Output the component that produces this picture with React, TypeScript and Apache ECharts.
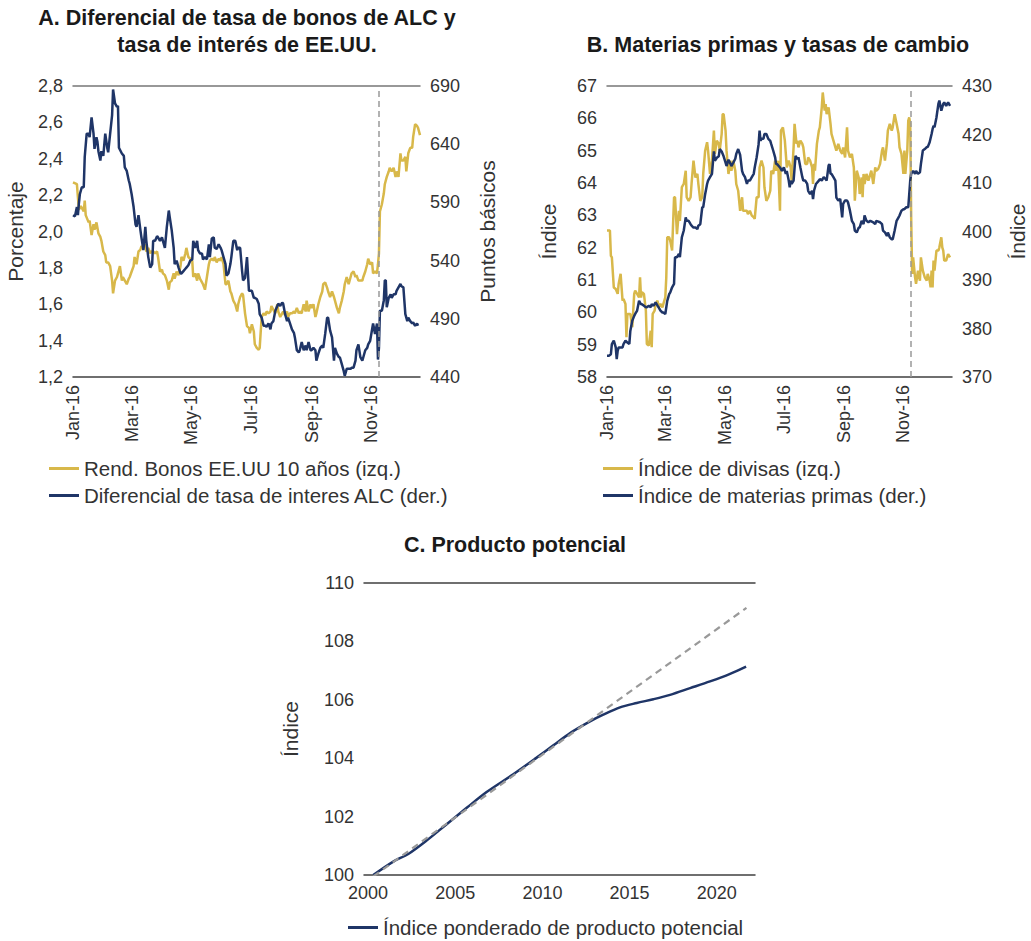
import { useEffect, useRef } from "react";
import * as echarts from "echarts";

const FONT = "'Liberation Sans', Arial, Helvetica, sans-serif";
const GOLD = "#D8B84A";
const NAVY = "#1F3567";
const TEXT = "#333333";

// x positions in panels A and B are days since 1 Jan 2016
const monthTickDays = [0, 60, 121, 182, 244, 305];
const monthTickLabels = ["Jan-16", "Mar-16", "May-16", "Jul-16", "Sep-16", "Nov-16"];
const electionDay = 313;
const yearTicks = [2000, 2005, 2010, 2015, 2020];

// Panel A: US 10y bond yield (%, left) [day, value]
const usYield: [number, number][] = [
  [0, 2.27], [4, 2.26], [5, 2.19], [6, 2.12], [8, 2.14], [11, 2.11], [12, 2.17], [13, 2.09], [16, 2.05], [17, 2.06],
  [19, 1.98], [21, 2.04], [22, 2.01], [24, 2.05], [26, 1.99], [28, 1.97], [29, 1.95], [31, 1.89], [33, 1.87], [34, 1.83],
  [36, 1.83], [38, 1.81], [40, 1.73], [41, 1.66], [43, 1.73], [45, 1.75], [46, 1.77], [48, 1.81], [50, 1.73], [51, 1.75],
  [53, 1.73], [55, 1.71], [57, 1.74], [58, 1.75], [60, 1.78], [62, 1.81], [63, 1.86], [65, 1.82], [67, 1.89], [69, 1.9],
  [70, 1.92], [72, 1.91], [74, 1.93], [75, 1.89], [77, 1.91], [79, 1.88], [80, 1.89], [82, 1.89], [84, 1.88], [86, 1.89],
  [87, 1.86], [89, 1.78], [91, 1.79], [92, 1.77], [94, 1.76], [96, 1.73], [98, 1.68], [99, 1.72], [101, 1.73], [103, 1.77],
  [104, 1.74], [106, 1.78], [108, 1.76], [110, 1.81], [111, 1.86], [113, 1.84], [115, 1.88], [116, 1.91], [118, 1.86], [120, 1.85],
  [122, 1.84], [123, 1.75], [125, 1.77], [127, 1.73], [128, 1.77], [130, 1.74], [132, 1.72], [133, 1.71], [135, 1.68], [137, 1.75],
  [139, 1.82], [140, 1.84], [142, 1.85], [144, 1.84], [145, 1.86], [147, 1.83], [149, 1.85], [151, 1.84], [152, 1.86], [154, 1.82],
  [156, 1.71], [157, 1.71], [159, 1.73], [161, 1.67], [162, 1.66], [164, 1.62], [166, 1.6], [168, 1.56], [169, 1.6], [171, 1.64],
  [173, 1.66], [174, 1.65], [176, 1.55], [178, 1.48], [180, 1.47], [181, 1.44], [183, 1.49], [185, 1.45], [186, 1.38], [188, 1.36],
  [190, 1.35], [191, 1.36], [193, 1.53], [195, 1.55], [197, 1.54], [198, 1.56], [200, 1.55], [202, 1.56], [203, 1.59], [207, 1.55],
  [209, 1.6], [210, 1.56], [212, 1.53], [214, 1.55], [215, 1.56], [217, 1.54], [219, 1.56], [220, 1.53], [222, 1.55], [224, 1.55],
  [226, 1.56], [227, 1.55], [229, 1.58], [231, 1.55], [232, 1.56], [234, 1.55], [236, 1.6], [238, 1.56], [239, 1.62], [241, 1.56],
  [243, 1.6], [244, 1.58], [246, 1.6], [248, 1.53], [249, 1.55], [251, 1.6], [253, 1.64], [255, 1.67], [256, 1.71], [258, 1.72],
  [260, 1.69], [261, 1.67], [263, 1.64], [265, 1.67], [267, 1.64], [268, 1.62], [270, 1.58], [272, 1.55], [273, 1.58], [275, 1.62],
  [277, 1.67], [278, 1.71], [280, 1.75], [282, 1.71], [284, 1.75], [285, 1.77], [287, 1.78], [289, 1.75], [290, 1.76], [292, 1.73],
  [294, 1.73], [296, 1.73], [297, 1.75], [299, 1.78], [301, 1.82], [302, 1.85], [304, 1.82], [306, 1.83], [307, 1.77], [309, 1.78],
  [311, 1.77], [312, 1.82], [313, 1.88], [314, 2.11], [316, 2.15], [318, 2.21], [319, 2.26], [321, 2.3], [323, 2.33], [324, 2.35],
  [326, 2.33], [328, 2.35], [330, 2.3], [331, 2.33], [333, 2.3], [335, 2.43], [336, 2.39], [338, 2.39], [340, 2.41], [341, 2.33],
  [343, 2.43], [345, 2.46], [347, 2.46], [348, 2.52], [350, 2.59], [352, 2.58], [353, 2.57], [355, 2.53],
];

// Panel A: LAC interest-rate spread (basis points, right) [day, value]
const lacSpread: [number, number][] = [
  [0, 579], [2, 578], [4, 586], [5, 579], [6, 589], [7, 597], [9, 603], [11, 603], [12, 629], [14, 649],
  [16, 649], [17, 646], [19, 663], [21, 649], [22, 636], [24, 646], [25, 642], [26, 634], [28, 626], [29, 634],
  [31, 630], [33, 649], [35, 637], [36, 633], [38, 649], [40, 665], [41, 687], [43, 675], [45, 672], [46, 673],
  [47, 637], [50, 632], [52, 630], [53, 620], [55, 617], [57, 609], [58, 606], [60, 597], [62, 586], [64, 571],
  [65, 569], [67, 579], [69, 566], [70, 560], [72, 549], [74, 569], [75, 557], [77, 543], [79, 534], [81, 537],
  [82, 557], [84, 557], [86, 561], [87, 560], [89, 557], [91, 560], [93, 554], [94, 551], [96, 569], [98, 583],
  [99, 577], [101, 566], [103, 551], [104, 537], [106, 540], [108, 534], [110, 529], [111, 529], [113, 531], [115, 533],
  [116, 534], [118, 536], [120, 540], [122, 541], [123, 557], [125, 551], [127, 557], [128, 549], [130, 546], [132, 546],
  [133, 541], [135, 543], [137, 541], [139, 554], [140, 543], [142, 559], [144, 560], [145, 551], [147, 550], [149, 554],
  [151, 551], [152, 549], [154, 543], [156, 537], [157, 527], [159, 529], [161, 537], [162, 543], [164, 557], [166, 557],
  [168, 549], [169, 551], [171, 551], [173, 531], [174, 523], [176, 525], [178, 543], [180, 514], [183, 514], [185, 508],
  [186, 508], [188, 507], [190, 503], [191, 494], [193, 491], [195, 484], [197, 484], [198, 483], [200, 486], [202, 481],
  [203, 486], [205, 488], [207, 497], [209, 501], [210, 503], [212, 501], [214, 504], [215, 503], [217, 494], [219, 488],
  [220, 491], [222, 486], [224, 481], [226, 478], [227, 474], [229, 463], [231, 461], [232, 463], [234, 470], [236, 463],
  [238, 467], [239, 463], [241, 470], [243, 463], [244, 463], [246, 465], [248, 463], [249, 454], [251, 460], [253, 465],
  [255, 467], [256, 465], [258, 477], [260, 491], [261, 491], [263, 480], [265, 474], [267, 454], [268, 465], [270, 460],
  [272, 457], [273, 457], [275, 451], [277, 445], [278, 441], [280, 447], [282, 447], [284, 447], [285, 448], [287, 448],
  [289, 454], [290, 463], [292, 468], [294, 457], [296, 454], [297, 457], [299, 463], [301, 465], [302, 468], [304, 471],
  [306, 481], [307, 486], [309, 477], [311, 486], [312, 455], [313, 465], [314, 497], [316, 497], [318, 506], [319, 523],
  [320, 523], [321, 500], [323, 508], [325, 511], [326, 508], [328, 511], [330, 511], [331, 514], [333, 517], [335, 520],
  [336, 518], [338, 517], [340, 494], [342, 488], [343, 491], [345, 488], [347, 486], [348, 487], [350, 484], [352, 486],
  [353, 484],
];

// Panel B: currency index (left) [day, value]
const currencyIndex: [number, number][] = [
  [0, 62.53], [3, 62.53], [4, 61.75], [5, 61.7], [7, 60.77], [9, 60.72], [11, 60.57], [12, 60.88], [14, 61.19], [16, 60.36],
  [17, 60.41], [19, 60.26], [20, 59.23], [21, 59.95], [23, 59.95], [24, 59.95], [26, 59.54], [28, 60.57], [29, 60.67], [31, 60.57],
  [33, 60.46], [34, 61.08], [35, 60.46], [36, 60.62], [38, 60.57], [40, 60.05], [41, 59.02], [43, 58.97], [45, 59.43], [46, 58.92],
  [47, 59.95], [49, 60.05], [50, 60.26], [52, 60.36], [53, 60.15], [55, 60.26], [57, 60.15], [58, 60.26], [60, 60.46], [61, 61.08],
  [62, 62.32], [64, 62.32], [65, 62.22], [67, 61.91], [69, 63.56], [70, 63.56], [72, 62.42], [74, 63.14], [75, 62.83], [77, 63.87],
  [79, 63.97], [81, 64.38], [82, 63.56], [84, 63.45], [86, 63.56], [87, 63.97], [89, 64.69], [91, 64.17], [93, 64.28], [94, 63.97],
  [96, 63.45], [98, 63.56], [99, 64.28], [101, 65.0], [103, 65.26], [104, 65.0], [106, 64.28], [108, 64.69], [110, 65.62], [111, 64.9],
  [113, 65.31], [115, 65.21], [116, 65.0], [118, 65.52], [119, 66.13], [120, 66.13], [122, 65.62], [123, 65.0], [125, 64.28], [127, 64.69],
  [128, 64.38], [130, 64.69], [132, 64.38], [133, 63.97], [135, 63.76], [137, 63.14], [139, 63.56], [140, 63.14], [142, 63.14], [144, 63.14],
  [145, 63.04], [147, 63.14], [149, 62.99], [151, 62.94], [152, 62.89], [154, 63.56], [156, 63.56], [157, 64.48], [159, 64.69], [161, 64.48],
  [162, 63.87], [164, 63.45], [166, 63.56], [168, 63.76], [169, 64.38], [171, 64.28], [173, 64.69], [174, 64.38], [176, 64.69], [178, 63.14],
  [179, 65.62], [181, 65.72], [183, 65.31], [184, 64.9], [185, 64.48], [187, 64.69], [189, 64.48], [190, 64.07], [192, 65.1], [193, 65.83],
  [195, 65.21], [196, 65.31], [197, 65.1], [199, 65.31], [201, 65.21], [202, 65.1], [204, 64.59], [206, 64.59], [207, 64.79], [209, 64.69],
  [211, 64.48], [212, 63.97], [213, 64.59], [214, 64.38], [216, 65.21], [218, 65.62], [219, 65.72], [221, 66.34], [222, 66.8], [224, 66.24],
  [225, 66.44], [226, 66.13], [228, 66.34], [230, 65.83], [231, 65.52], [233, 65.31], [235, 65.1], [236, 65.0], [238, 65.21], [240, 65.0],
  [242, 64.9], [243, 65.1], [245, 64.79], [247, 65.72], [248, 65.0], [250, 64.79], [252, 64.9], [254, 64.48], [255, 63.45], [257, 64.38],
  [259, 64.17], [260, 63.66], [262, 64.17], [263, 63.56], [264, 64.28], [265, 63.97], [267, 64.28], [269, 64.07], [271, 64.28], [272, 64.38],
  [274, 63.97], [276, 64.48], [277, 64.38], [279, 64.43], [281, 64.59], [283, 65.0], [284, 65.1], [286, 64.69], [288, 65.21], [289, 65.62],
  [291, 65.83], [293, 65.62], [294, 65.72], [296, 66.13], [298, 65.83], [300, 65.52], [301, 65.1], [303, 64.9], [305, 64.28], [306, 65.0],
  [307, 64.28], [309, 65.0], [310, 65.93], [311, 66.03], [312, 65.83], [313, 62.94], [314, 61.19], [315, 61.7], [317, 61.08], [318, 60.88],
  [320, 61.29], [322, 60.98], [323, 61.7], [325, 61.29], [327, 61.08], [329, 60.98], [330, 61.19], [332, 60.98], [333, 60.77], [334, 61.29],
  [335, 60.77], [336, 61.6], [337, 61.29], [339, 61.91], [341, 61.91], [342, 62.01], [344, 62.32], [345, 62.01], [346, 61.91], [347, 61.6],
  [349, 61.6], [351, 61.8], [353, 61.7],
];

// Panel B: commodity index (right) [day, value]
const commodityIndex: [number, number][] = [
  [0, 374.4], [2, 374.4], [4, 374.7], [5, 376.8], [7, 377.5], [9, 376.1], [10, 373.7], [11, 375.4], [12, 376.1], [16, 376.1],
  [17, 376.8], [19, 377.5], [21, 377.1], [23, 376.8], [24, 379.5], [26, 381.6], [28, 382.6], [29, 383.0], [31, 383.7], [33, 385.7],
  [35, 385.0], [36, 385.0], [38, 384.7], [40, 384.4], [41, 384.4], [43, 384.7], [45, 384.4], [46, 385.0], [48, 384.7], [50, 385.4],
  [52, 384.7], [53, 384.4], [55, 383.7], [57, 383.3], [58, 383.3], [60, 383.0], [62, 385.7], [64, 387.1], [65, 387.4], [67, 388.5],
  [69, 389.2], [70, 394.7], [72, 394.7], [74, 395.4], [75, 394.7], [77, 398.8], [79, 400.2], [81, 402.9], [82, 402.2], [84, 402.2],
  [86, 401.5], [87, 401.2], [89, 400.8], [91, 400.8], [93, 400.5], [94, 401.2], [96, 401.5], [98, 405.0], [99, 405.0], [101, 407.7],
  [103, 409.8], [104, 410.5], [106, 411.2], [108, 411.9], [110, 416.5], [111, 414.6], [113, 415.2], [115, 415.5], [116, 417.0], [118, 416.5],
  [120, 415.5], [122, 414.2], [123, 413.5], [125, 414.8], [127, 414.0], [128, 413.5], [130, 414.2], [132, 415.0], [133, 416.0], [135, 417.0],
  [137, 415.8], [139, 412.5], [140, 411.9], [142, 411.2], [144, 409.8], [145, 410.5], [147, 410.5], [149, 411.2], [151, 411.9], [152, 413.2],
  [154, 415.3], [156, 418.0], [157, 420.8], [158, 418.7], [159, 419.1], [161, 419.1], [162, 420.1], [164, 420.1], [166, 419.1], [168, 418.7],
  [169, 418.0], [171, 416.7], [173, 415.3], [174, 413.9], [175, 413.9], [178, 413.2], [180, 412.5], [182, 413.2], [184, 411.9], [185, 412.5],
  [187, 410.5], [188, 409.1], [189, 410.5], [190, 409.8], [192, 410.5], [194, 415.6], [196, 414.9], [197, 415.3], [199, 413.2], [201, 411.2],
  [202, 410.5], [204, 410.5], [206, 409.8], [207, 408.4], [209, 407.7], [211, 408.4], [212, 406.7], [213, 408.4], [215, 409.8], [218, 410.5],
  [219, 410.8], [221, 410.5], [223, 411.2], [225, 410.8], [226, 410.5], [228, 413.6], [229, 413.9], [230, 411.9], [231, 411.9], [233, 411.2],
  [235, 410.5], [236, 407.0], [238, 406.4], [240, 406.7], [242, 402.9], [243, 405.7], [245, 406.4], [247, 406.4], [248, 406.0], [250, 404.3],
  [252, 402.2], [254, 401.5], [255, 400.2], [257, 399.8], [259, 400.8], [260, 400.8], [262, 402.2], [264, 401.5], [265, 403.3], [267, 402.2],
  [269, 401.9], [271, 402.2], [274, 401.9], [276, 401.5], [277, 402.2], [281, 401.9], [283, 401.5], [284, 400.2], [286, 399.8], [288, 399.1],
  [289, 399.8], [291, 398.8], [293, 398.4], [294, 398.4], [296, 400.2], [298, 402.2], [300, 402.9], [301, 403.3], [303, 404.3], [305, 404.6],
  [306, 404.6], [308, 405.0], [310, 405.0], [311, 407.7], [312, 410.5], [313, 411.9], [315, 412.5], [317, 411.9], [318, 412.5], [320, 411.9],
  [322, 412.2], [323, 413.9], [325, 416.7], [327, 417.0], [329, 417.4], [330, 417.4], [332, 418.4], [334, 420.1], [335, 421.1], [336, 421.8],
  [337, 421.5], [339, 423.5], [341, 426.3], [342, 427.0], [344, 424.9], [346, 426.3], [347, 426.6], [349, 425.9], [351, 426.6], [353, 425.9],
];

// Panel C: weighted potential output index
const potentialYears = [2000.3, 2001.45, 2002.31, 2003.36, 2004.51, 2005.66, 2006.8, 2008.33, 2009.67, 2010.63, 2011.59, 2012.73, 2013.49, 2014.45, 2015.41, 2016.36, 2017.32, 2018.47, 2019.61, 2020.76, 2021.68];
const potentialIndex = [100.0, 100.46, 100.72, 101.18, 101.74, 102.3, 102.84, 103.45, 104.02, 104.44, 104.86, 105.26, 105.49, 105.74, 105.89, 106.02, 106.17, 106.4, 106.63, 106.89, 107.14];
// Pre-2012 trend extension (dashed)
const trendYears = [2000.3, 2021.7];
const trendIndex = [99.95, 109.15];

export default function App() {
  const ref = useRef<HTMLDivElement>(null);

  useEffect(() => {
    if (!ref.current) return;
    const chart = echarts.init(ref.current, null, { renderer: "svg" });

    const tick = { color: TEXT, fontSize: 18, fontFamily: FONT };
    const nameStyle = { color: TEXT, fontSize: 21, fontFamily: FONT };

    const dayAxis = (g: number) => ({
      type: "value",
      gridIndex: g,
      min: 0,
      max: 355,
      axisLine: { show: true, lineStyle: { color: "#404040", width: 1.5 } },
      axisTick: { show: false },
      splitLine: { show: false },
      axisLabel: {
        ...tick,
        customValues: monthTickDays,
        rotate: 90,
        margin: 8,
        formatter: (v: number) => {
          const i = monthTickDays.indexOf(v);
          return i >= 0 ? monthTickLabels[i] : "";
        },
      },
    });

    const topLine = (g: number, color: string) => ({
      type: "value",
      gridIndex: g,
      position: "top",
      min: 0,
      max: 1,
      axisLine: { show: true, lineStyle: { color, width: 1.5 } },
      axisTick: { show: false },
      axisLabel: { show: false },
      splitLine: { show: false },
    });

    const yAx = (
      g: number,
      pos: string,
      min: number,
      max: number,
      interval: number,
      name: string,
      gap: number,
      fmt?: (v: number) => string
    ) => ({
      type: "value",
      gridIndex: g,
      position: pos,
      min,
      max,
      interval,
      name,
      nameLocation: "middle",
      nameGap: gap,
      nameTextStyle: nameStyle,
      axisLine: { show: false },
      axisTick: { show: false },
      splitLine: { show: false },
      axisLabel: { ...tick, margin: 10, formatter: fmt },
    });

    const vline = {
      silent: true,
      symbol: ["none", "none"],
      label: { show: false },
      lineStyle: { type: [6, 4], color: "#999999", width: 1.5 },
      data: [{ xAxis: electionDay }],
    };

    const legendBase = {
      orient: "vertical",
      icon: "rect",
      itemWidth: 30,
      itemHeight: 3,
      itemGap: 6,
      padding: 0,
      textStyle: { color: TEXT, fontSize: 20.5, fontFamily: FONT },
    };

    const titleStyle = { color: "#1a1a1a", fontSize: 21.5, fontWeight: "bold", fontFamily: FONT, lineHeight: 27 };

    const option = {
      animation: false,
      backgroundColor: "#ffffff",
      title: [
        {
          text: "A. Diferencial de tasa de bonos de ALC y\ntasa de interés de EE.UU.",
          left: 247,
          top: 4,
          padding: 0,
          textAlign: "center",
          textStyle: titleStyle,
        },
        {
          text: "B. Materias primas y tasas de cambio",
          left: 778,
          top: 31,
          padding: 0,
          textAlign: "center",
          textStyle: titleStyle,
        },
        {
          text: "C. Producto potencial",
          left: 515,
          top: 531,
          padding: 0,
          textAlign: "center",
          textStyle: titleStyle,
        },
      ],
      legend: [
        {
          ...legendBase,
          left: 49,
          top: 458,
          data: ["Rend. Bonos EE.UU 10 años (izq.)", "Diferencial de tasa de interes ALC (der.)"],
        },
        {
          ...legendBase,
          left: 603,
          top: 458,
          data: ["Índice de divisas (izq.)", "Índice de materias primas (der.)"],
        },
        {
          ...legendBase,
          left: 348,
          top: 917,
          data: ["Índice ponderado de producto potencial"],
        },
      ],
      grid: [
        { left: 73, top: 86, width: 347, height: 291 },
        { left: 607, top: 86, width: 345, height: 291 },
        { left: 364, top: 583, width: 391, height: 292 },
      ],
      xAxis: [
        dayAxis(0),
        dayAxis(1),
        {
          type: "value",
          gridIndex: 2,
          min: 1999.77,
          max: 2022.19,
          axisLine: { show: true, lineStyle: { color: "#404040", width: 1.5 } },
          axisTick: { show: false },
          splitLine: { show: false },
          axisLabel: { ...tick, customValues: yearTicks, margin: 9, formatter: (v: number) => String(Math.round(v)) },
        },
        topLine(0, "#777777"),
        topLine(1, "#777777"),
        topLine(2, "#404040"),
      ],
      yAxis: [
        yAx(0, "left", 1.2, 2.8, 0.2, "Porcentaje", 47, (v: number) => v.toFixed(1).replace(".", ",")),
        yAx(0, "right", 440, 690, 50, "Puntos básicos", 57),
        yAx(1, "left", 58, 67, 1, "Índice", 48),
        yAx(1, "right", 370, 430, 10, "Índice", 55),
        yAx(2, "left", 100, 110, 2, "Índice", 63),
      ],
      series: [
        {
          type: "line",
          name: "Rend. Bonos EE.UU 10 años (izq.)",
          xAxisIndex: 0,
          yAxisIndex: 0,
          data: usYield,
          color: GOLD,
          showSymbol: false,
          lineStyle: { width: 2.5, color: GOLD },
          markLine: vline,
        },
        {
          type: "line",
          name: "Diferencial de tasa de interes ALC (der.)",
          xAxisIndex: 0,
          yAxisIndex: 1,
          data: lacSpread,
          color: NAVY,
          showSymbol: false,
          lineStyle: { width: 2.5, color: NAVY },
        },
        {
          type: "line",
          name: "Índice de divisas (izq.)",
          xAxisIndex: 1,
          yAxisIndex: 2,
          data: currencyIndex,
          color: GOLD,
          showSymbol: false,
          lineStyle: { width: 2.5, color: GOLD },
          markLine: vline,
        },
        {
          type: "line",
          name: "Índice de materias primas (der.)",
          xAxisIndex: 1,
          yAxisIndex: 3,
          data: commodityIndex,
          color: NAVY,
          showSymbol: false,
          lineStyle: { width: 2.5, color: NAVY },
        },
        {
          type: "line",
          name: "Índice ponderado de producto potencial",
          xAxisIndex: 2,
          yAxisIndex: 4,
          data: potentialYears.map((y, i) => [y, potentialIndex[i]]),
          color: NAVY,
          showSymbol: false,
          smooth: 0.3,
          lineStyle: { width: 2.5, color: NAVY },
        },
        {
          type: "line",
          name: "Tendencia",
          xAxisIndex: 2,
          yAxisIndex: 4,
          data: trendYears.map((y, i) => [y, trendIndex[i]]),
          color: "#999999",
          showSymbol: false,
          lineStyle: { width: 2.2, color: "#999999", type: [7, 5] },
        },
      ],
    };

    chart.setOption(option as any);
    return () => chart.dispose();
  }, []);

  return (
    <div
      ref={ref}
      style={{ position: "absolute", left: 0, top: 0, width: 1031, height: 941, background: "#ffffff" }}
    />
  );
}
